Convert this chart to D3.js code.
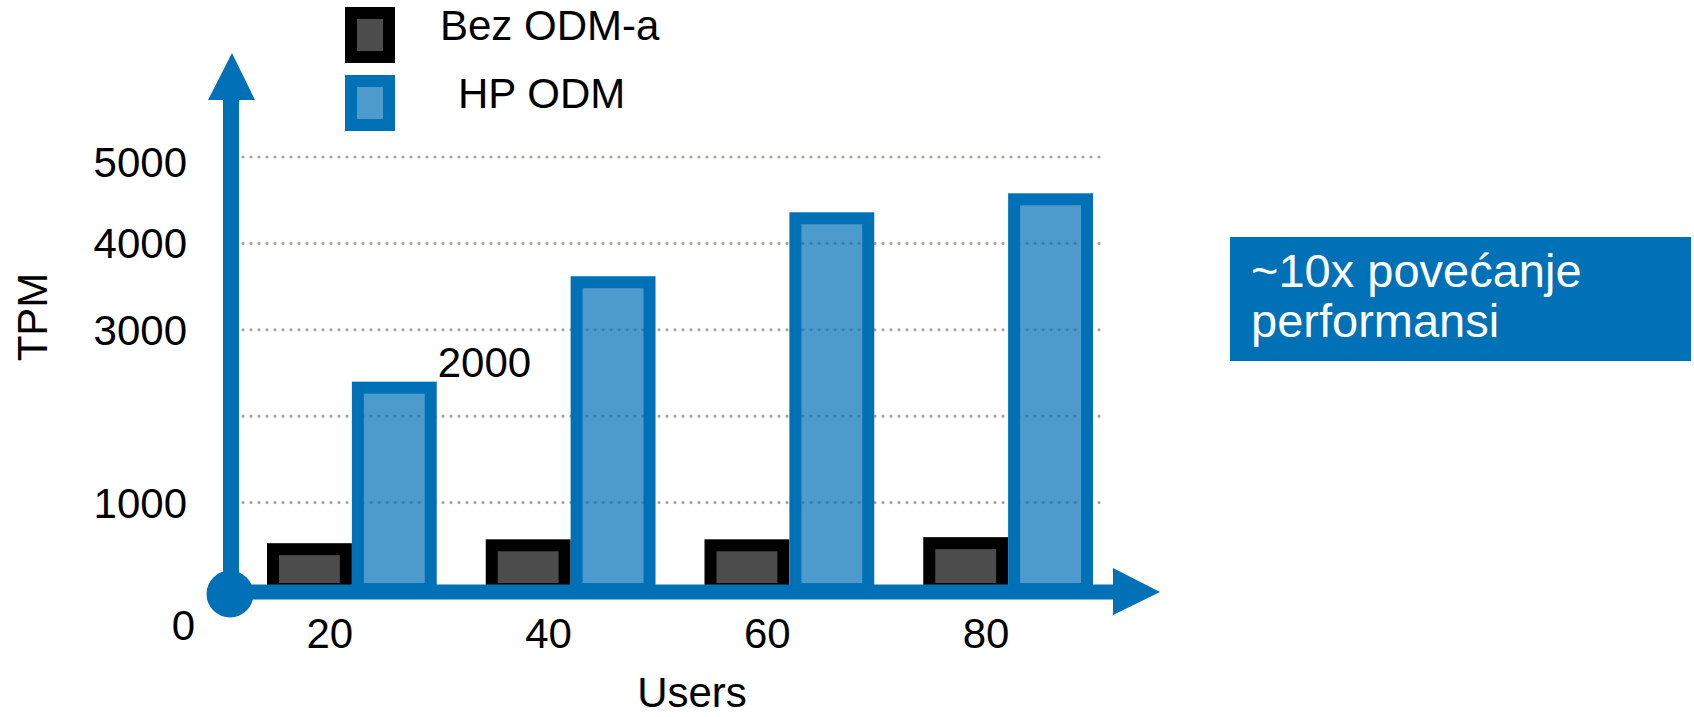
<!DOCTYPE html>
<html lang="hr">
<head>
  <meta charset="UTF-8">
  <title>TPM</title>
  <script src="https://d3js.org/d3.v7.min.js"></script>
  <style>
    body { margin: 0; background: #fff; }
    text { font-family: "Liberation Sans", Arial, sans-serif; }
  </style>
</head>
<body>
<div class="canvas"></div>
<script>
  const users = [20, 40, 60, 80]
  const series = ['Bez ODM-a', 'HP ODM']
  const bezOdm = [530, 575, 575, 600]
  const hpOdm = [2400, 3620, 4360, 4580]
  const gridValues = [1000, 2000, 3000, 4000, 5000]
  const yTickLabels = [0, 1000, 3000, 4000, 5000]

  const blue = '#0071b6'
  const sw = 12 // debljina ruba stupca

  const svg = d3.select('.canvas')
    .append('svg')
    .attr('width', 1694)
    .attr('height', 717)

  const y = d3.scaleLinear().domain([0, 5000]).range([589, 157])
  const x = d3.scaleBand().domain(users).range([267, 1093]).paddingInner(0.224)
  const xs = d3.scaleBand().domain(series).range([0, x.bandwidth()])
  const color = d3.scaleOrdinal().domain(series).range(['#000', blue])

  const axisX = 231
  const axisY = y(0) + 3

  // isprekidane linije mreze
  svg.append('g')
    .selectAll('line')
    .data(gridValues)
    .enter()
    .append('line')
    .attr('x1', axisX + 12)
    .attr('x2', x.range()[1] + 9)
    .attr('y1', d => y(d))
    .attr('y2', d => y(d))
    .attr('stroke', '#a9a49e')
    .attr('stroke-width', 3.2)
    .attr('stroke-linecap', 'round')
    .attr('stroke-dasharray', '0 8')

  const rows = users.map((u, i) => ({ users: u, values: [bezOdm[i], hpOdm[i]] }))

  const groups = svg.append('g')
    .selectAll('g')
    .data(rows)
    .enter()
    .append('g')
    .attr('transform', d => `translate(${x(d.users)}, 0)`)

  groups.selectAll('rect')
    .data(d => d.values.map((v, j) => ({ key: series[j], value: v })))
    .enter()
    .append('rect')
    .attr('x', d => xs(d.key) + sw / 2)
    .attr('width', xs.bandwidth() - sw)
    .attr('y', d => y(d.value) + sw / 2)
    .attr('height', d => y(0) - y(d.value) - sw / 2)
    .attr('fill', d => color(d.key))
    .attr('fill-opacity', 0.7)
    .attr('stroke', d => color(d.key))
    .attr('stroke-width', sw)

  // osi sa strelicama
  const axes = svg.append('g').attr('fill', blue)
  axes.append('line')
    .attr('x1', axisX).attr('x2', axisX)
    .attr('y1', axisY).attr('y2', 98)
    .attr('stroke', blue).attr('stroke-width', 16)
  axes.append('path')
    .attr('d', `M${axisX - 23},100 L${axisX + 24},100 L${axisX + 1},53 Z`)
  axes.append('line')
    .attr('x1', axisX).attr('x2', 1115)
    .attr('y1', axisY).attr('y2', axisY)
    .attr('stroke', blue).attr('stroke-width', 15)
  axes.append('path')
    .attr('d', `M1113,${axisY - 24} L1113,${axisY + 23} L1160,${axisY} Z`)
  axes.append('circle')
    .attr('cx', axisX - 1).attr('cy', axisY + 2).attr('r', 23.5)

  // oznake
  svg.append('g')
    .selectAll('text')
    .data(yTickLabels)
    .enter()
    .append('text')
    .attr('x', d => d === 0 ? 195 : 187)
    .attr('y', d => d === 0 ? y(0) + 51 : y(d) + (d === 5000 ? 20 : 15))
    .attr('text-anchor', 'end')
    .attr('font-size', 42)
    .text(d => d)

  svg.append('g')
    .selectAll('text')
    .data(users)
    .enter()
    .append('text')
    .attr('x', d => x(d) + x.bandwidth() / 2 - 22)
    .attr('y', 648)
    .attr('text-anchor', 'middle')
    .attr('font-size', 42)
    .text(d => d)

  svg.append('text')
    .attr('x', x(20) + x.bandwidth() + 1)
    .attr('y', y(2000) - 39)
    .attr('font-size', 42)
    .text('2000')

  svg.append('text')
    .attr('x', 692)
    .attr('y', 707)
    .attr('text-anchor', 'middle')
    .attr('font-size', 42)
    .text('Users')

  svg.append('text')
    .attr('transform', 'translate(47, 317) rotate(-90)')
    .attr('text-anchor', 'middle')
    .attr('font-size', 42)
    .text('TPM')

  // legenda
  const legend = svg.append('g')
    .selectAll('g')
    .data(series)
    .enter()
    .append('g')
    .attr('transform', (d, i) => `translate(345, ${7 + i * 68})`)

  legend.append('rect')
    .attr('x', sw / 2).attr('y', sw / 2)
    .attr('width', 50 - sw).attr('height', 56 - sw)
    .attr('fill', d => color(d))
    .attr('fill-opacity', 0.7)
    .attr('stroke', d => color(d))
    .attr('stroke-width', sw)

  legend.append('text')
    .attr('x', (d, i) => i === 0 ? 95 : 113)
    .attr('y', 33)
    .attr('font-size', 42)
    .text(d => d)

  // okvir s porukom
  const note = svg.append('g')
  note.append('rect')
    .attr('x', 1230).attr('y', 237)
    .attr('width', 461).attr('height', 124)
    .attr('fill', blue)
  note.append('text')
    .attr('x', 1251).attr('y', 287)
    .attr('fill', '#fff')
    .attr('font-size', 47)
    .text('~10x povećanje')
  note.append('text')
    .attr('x', 1251).attr('y', 337)
    .attr('fill', '#fff')
    .attr('font-size', 47)
    .text('performansi')
</script>
</body>
</html>
